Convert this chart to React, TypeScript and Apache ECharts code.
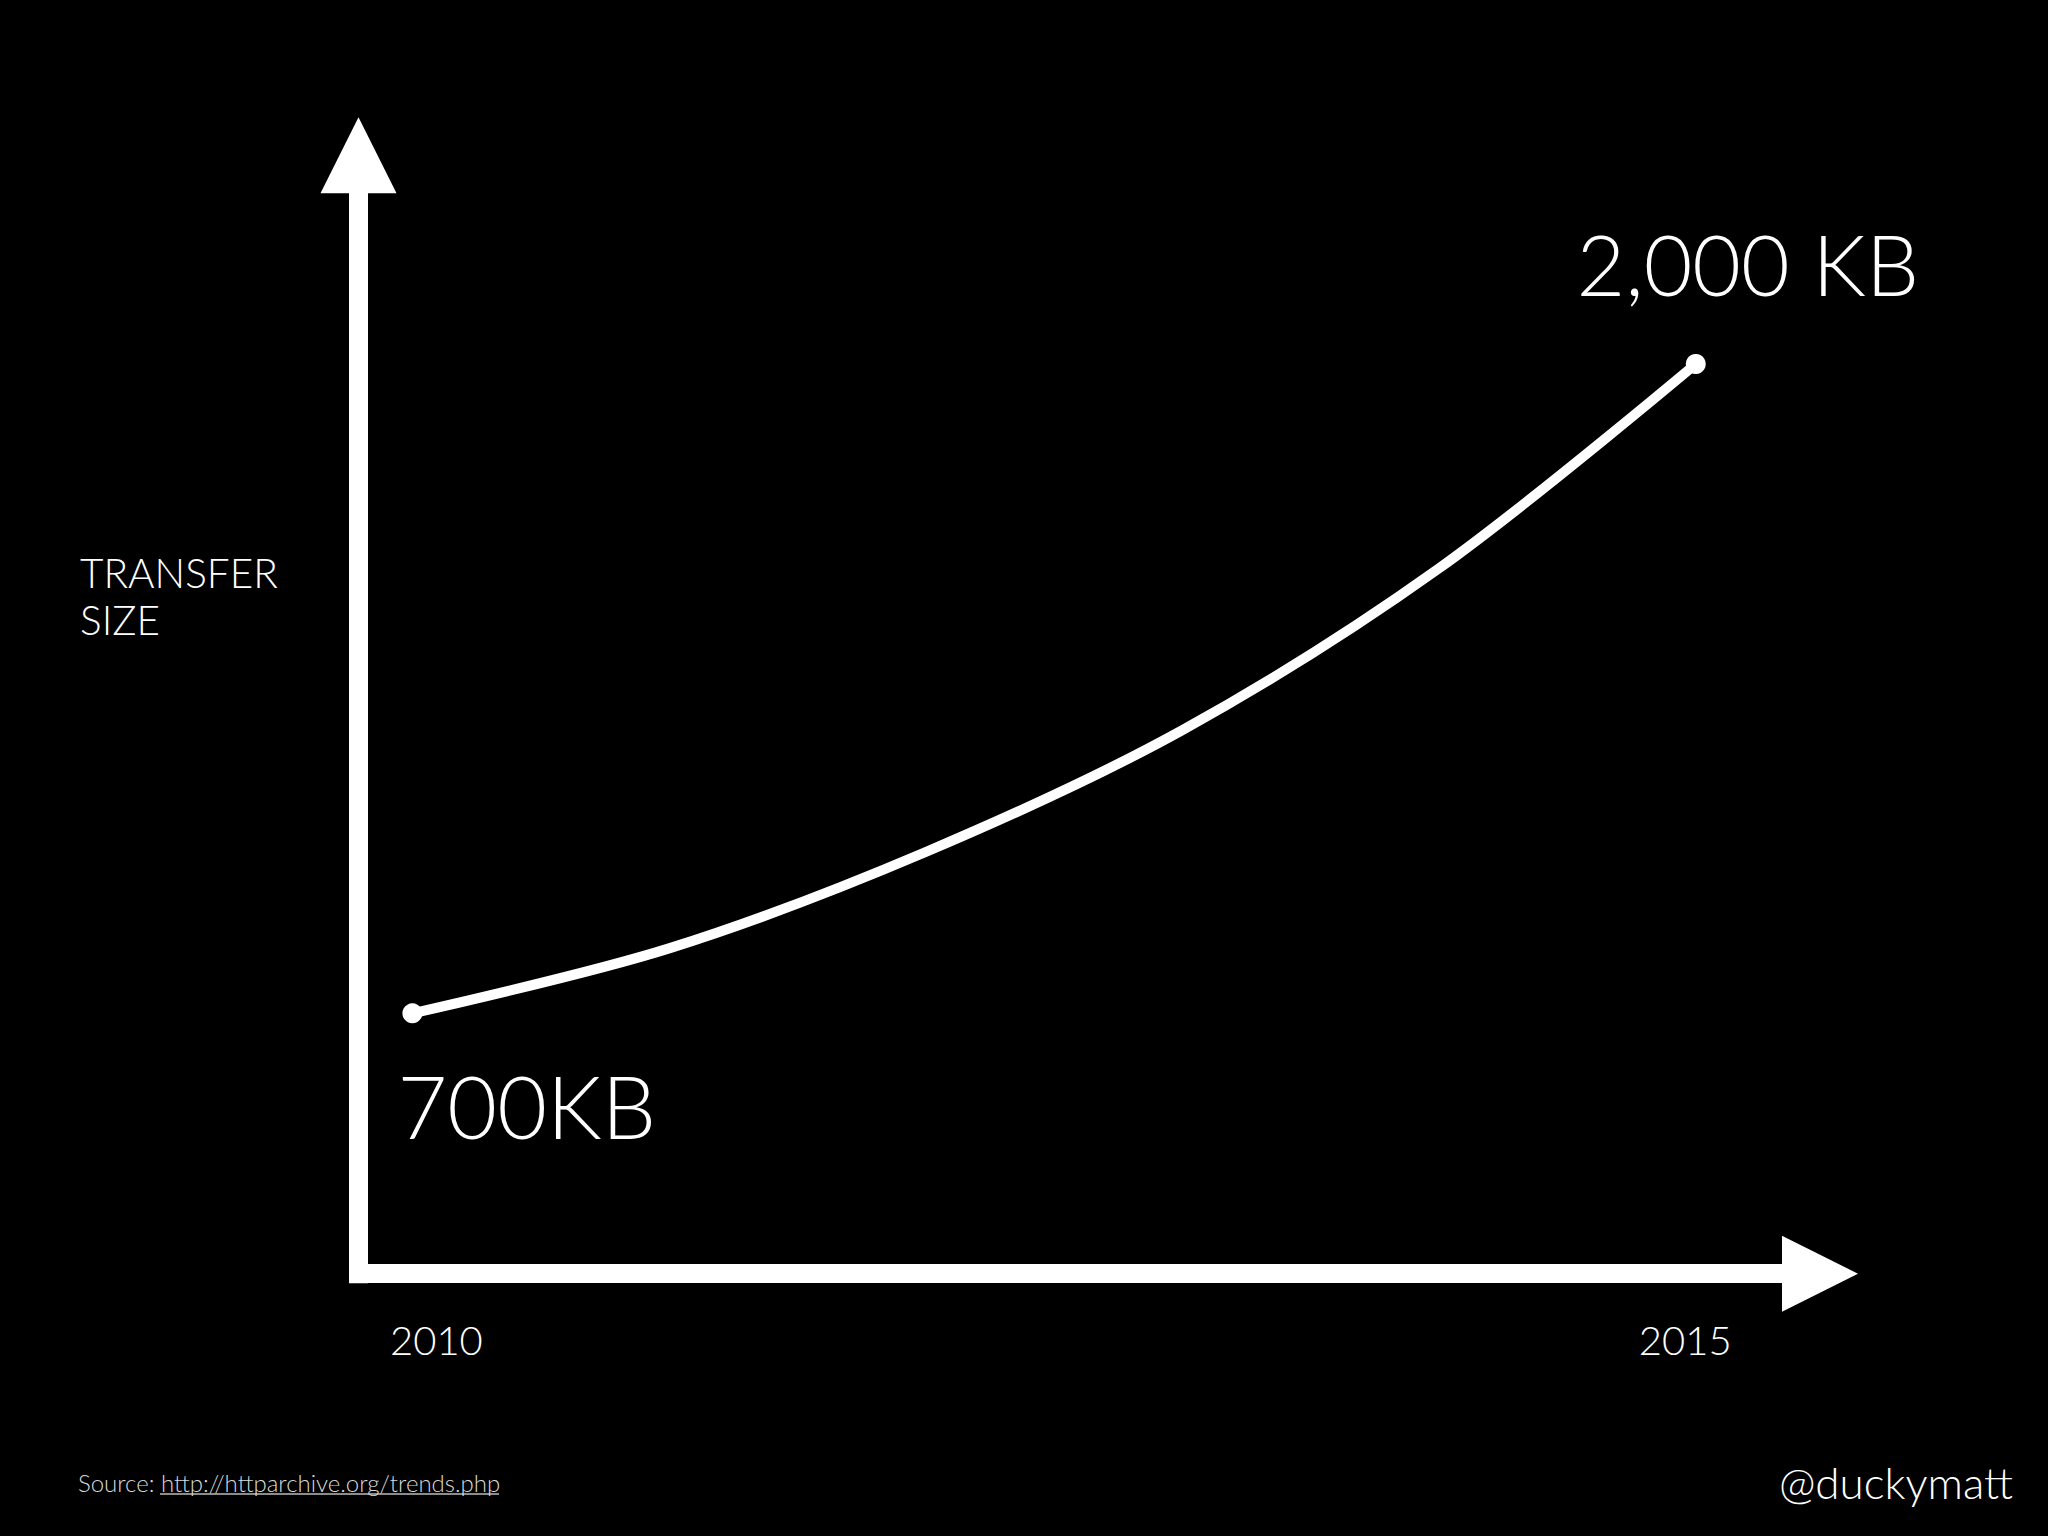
import React, { useEffect, useRef } from "react";
import * as echarts from "echarts";

const years = [2010, 2011, 2012, 2013, 2014, 2015];
const transferSizeKB = [700, 830, 1023, 1267, 1591, 2000];
const xTickValues = [2010, 2015];
const startLabel = "700KB";
const endLabel = "2,000 KB";
const axisTitle = "TRANSFER\nSIZE";
const sourceLabel = "Source: ";
const sourceLink = "http://httparchive.org/trends.php";
const handle = "@duckymatt";

const FONT = "Lato, 'Open Sans', sans-serif";

export default function App() {
  const ref = useRef<HTMLDivElement>(null);
  useEffect(() => {
    if (!ref.current) return;
    const chart = echarts.init(ref.current, undefined, { renderer: "svg" });
    const last = years.length - 1;
    const data = years.map((y, i) => {
      const item: any = { value: [y, transferSizeKB[i]] };
      if (i === 0) {
        item.symbol = "circle";
        item.label = {
          show: true,
          position: "bottom",
          align: "left",
          offset: [-15, 34],
          formatter: startLabel,
          fontSize: 86,
          fontWeight: 300,
          fontFamily: FONT,
          color: "#fff",
        };
      } else if (i === last) {
        item.symbol = "circle";
        item.label = {
          show: true,
          position: "top",
          align: "center",
          offset: [52, -43],
          formatter: endLabel,
          fontSize: 84,
          fontWeight: 300,
          fontFamily: FONT,
          color: "#fff",
        };
      } else {
        item.symbol = "none";
      }
      return item;
    });

    chart.setOption({
      animation: false,
      backgroundColor: "#000",
      title: [
        {
          text: axisTitle,
          left: 80,
          top: 549,
          padding: 0,
          textStyle: {
            color: "#fff",
            fontSize: 40.5,
            lineHeight: 47,
            fontWeight: 300,
            fontFamily: FONT,
          },
        },
        {
          text: sourceLabel + sourceLink,
          left: 78,
          top: 1470,
          padding: 0,
          textStyle: {
            color: "#d8d8d8",
            fontSize: 24,
            fontWeight: 300,
            fontFamily: FONT,
          },
        },
        {
          text: handle,
          right: 35,
          top: 1460,
          padding: 0,
          textStyle: {
            color: "#fff",
            fontSize: 44,
            fontWeight: 300,
            fontFamily: FONT,
          },
        },
      ],
      graphic: [
        {
          type: "line",
          shape: { x1: 160, y1: 1494, x2: 499, y2: 1494 },
          style: { stroke: "#bbbbbb", lineWidth: 1.5 },
        },
      ],
      grid: {
        left: 358.5,
        top: 155.3,
        width: 1461.5,
        height: 1118.4,
      },
      xAxis: {
        type: "value",
        min: 2009.79,
        max: 2015.484,
        axisLine: {
          show: true,
          onZero: false,
          symbol: ["none", "triangle"],
          symbolSize: [76, 76],
          lineStyle: { color: "#fff", width: 19, cap: "square" },
        },
        axisTick: { show: false },
        splitLine: { show: false },
        axisLabel: {
          show: true,
          customValues: xTickValues,
          margin: 46,
          color: "#fff",
          fontSize: 40,
          fontWeight: 300,
          fontFamily: FONT,
          formatter: (v: number) => (v === xTickValues[0] ? `{l|${v}}` : `{r|${v}}`),
          rich: {
            l: {
              color: "#fff",
              fontSize: 40,
              fontWeight: 300,
              fontFamily: FONT,
              padding: [0, 0, 0, 48],
            },
            r: {
              color: "#fff",
              fontSize: 40,
              fontWeight: 300,
              fontFamily: FONT,
              padding: [0, 21, 0, 0],
            },
          },
        },
      },
      yAxis: {
        type: "value",
        min: 178.7,
        max: 2417.8,
        axisLine: {
          show: true,
          onZero: false,
          symbol: ["none", "triangle"],
          symbolSize: [76, 76],
          lineStyle: { color: "#fff", width: 19, cap: "square" },
        },
        axisTick: { show: false },
        splitLine: { show: false },
        axisLabel: { show: false },
      },
      series: [
        {
          type: "line",
          data,
          smooth: 0.33,
          symbolSize: 20,
          showSymbol: true,
          showAllSymbol: true,
          lineStyle: { color: "#fff", width: 10 },
          itemStyle: { color: "#fff" },
          z: 5,
        },
      ],
    });
    return () => chart.dispose();
  }, []);
  return (
    <div
      ref={ref}
      style={{ position: "fixed", left: 0, top: 0, width: 2048, height: 1536, background: "#000" }}
    />
  );
}
